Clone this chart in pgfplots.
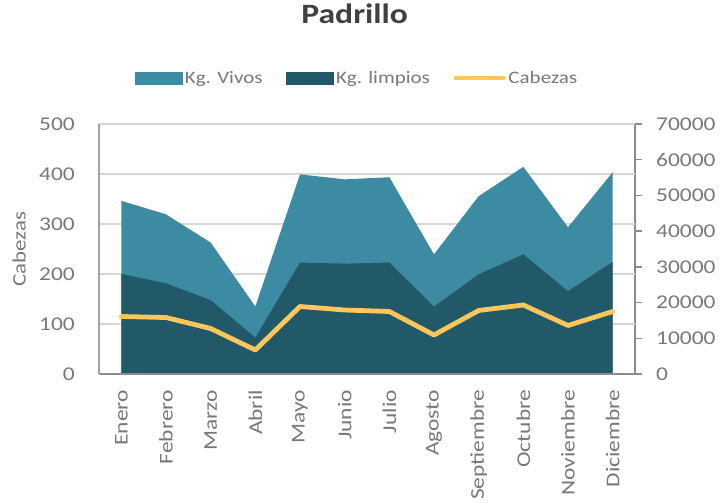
\documentclass[border=0pt]{standalone}
\usepackage{fontspec}
\setmainfont{Carlito}[FakeStretch=1.2]
\usepackage{pgfplots}
\pgfplotsset{compat=1.18}
\definecolor{cVivos}{RGB}{61,139,162}
\definecolor{cLimpios}{RGB}{33,89,104}
\definecolor{cCabezas}{RGB}{255,199,90}
\definecolor{cGrid}{RGB}{214,214,214}
\definecolor{cAxis}{RGB}{140,140,140}
\definecolor{cText}{RGB}{120,120,120}
\definecolor{cTitle}{RGB}{64,64,64}
\pgfplotsset{
  padbase/.style={
    at={(99bp,129bp)}, anchor=south west,
    scale only axis, width=536bp, height=250bp,
    xmin=-0.5, xmax=11.5,
    /pgf/number format/assume math mode=true,
    /pgf/number format/1000 sep={},
    scaled y ticks=false,
    tick label style={font=\fontsize{19.5bp}{21bp}\selectfont, color=cText},
  },
}
\begin{document}
\begin{tikzpicture}
\path[use as bounding box] (0,0) rectangle (721bp,503bp);
% Kg. axis on the right, with the areas
\begin{axis}[
  padbase,
  ymin=0, ymax=70000,
  axis x line=none,
  axis y line=right,
  y axis line style={-, cAxis, line width=1.6bp},
  ytick={0,10000,...,70000},
  tick align=outside,
  major tick length=7bp,
  ytick style={cAxis, line width=1.3bp},
  yticklabel style={anchor=west, inner sep=0pt},
  yticklabel shift=14bp,
  extra y ticks={14000,28000,42000,56000,70000},
  extra y tick labels={},
  extra y tick style={grid=major, major tick length=0pt},
  grid style={cGrid, line width=1.3bp},
]
  \addplot[fill=cVivos, draw=none] coordinates {
    (0,48500) (1,44700) (2,36800) (3,18900) (4,55900) (5,54500)
    (6,55100) (7,33500) (8,49800) (9,58000) (10,41100) (11,56500)} \closedcycle;
  \addplot[fill=cLimpios, draw=none] coordinates {
    (0,28000) (1,25400) (2,20700) (3,10200) (4,31200) (5,30900)
    (6,31200) (7,18900) (8,27900) (9,33500) (10,23200) (11,31400)} \closedcycle;
\end{axis}
% Cabezas axis on the left, with the line
\begin{axis}[
  padbase,
  ymin=0, ymax=500,
  ytick={0,100,...,500},
  axis x line=bottom, axis y line=left,
  x axis line style={-, cAxis, line width=1.8bp},
  y axis line style={-, cAxis!80, line width=1.2bp},
  xtick={0,...,11},
  xticklabels={Enero, Febrero, Marzo, Abril, Mayo, Junio, Julio, Agosto,
    Septiembre, Octubre, Noviembre, Diciembre},
  major tick length=0pt,
  tick style={draw=none},
  x tick label style={rotate=90, anchor=east, inner sep=0pt},
  xticklabel shift=16bp,
  yticklabel style={anchor=east, inner sep=0pt},
  yticklabel shift=24bp,
  ylabel={Cabezas},
  ylabel style={at={(axis description cs:-0.149,0.5)}, anchor=center,
    font=\fontsize{19bp}{21bp}\selectfont, color=cText},
  title={Padrillo},
  title style={at={(axis description cs:0.477,1.416)}, anchor=center,
    font=\bfseries\fontsize{28bp}{30bp}\selectfont, color=cTitle},
  legend columns=3,
  legend style={at={(0.482,1.184)}, anchor=center, draw=none, fill=none,
    font=\fontsize{17.5bp}{19bp}\selectfont, text=cText,
    nodes={inner sep=2.5bp},
    /tikz/every even column/.append style={column sep=21bp}},
  legend cell align=left,
]
  \addlegendimage{legend image code/.code={\fill[cVivos] (0bp,-6bp) rectangle (47bp,6bp);}}
  \addlegendentry{Kg. Vivos}
  \addlegendimage{legend image code/.code={\fill[cLimpios] (0bp,-6bp) rectangle (47bp,6bp);}}
  \addlegendentry{Kg. limpios}
  \addplot[cCabezas, line width=4.8bp, line join=round, line cap=round,
    legend image code/.code={\draw[cCabezas, line width=4.5bp, line cap=round] (2bp,0bp) -- (50bp,0bp);}]
    coordinates {
    (0,115) (1,113) (2,91) (3,48) (4,135) (5,128)
    (6,125) (7,78) (8,127) (9,138) (10,97) (11,125)};
  \addlegendentry{Cabezas}
\end{axis}
\end{tikzpicture}
\end{document}
